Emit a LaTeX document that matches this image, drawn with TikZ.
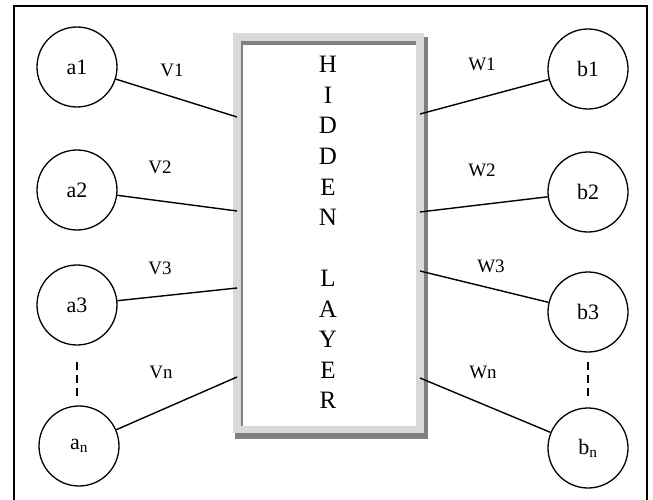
\documentclass[tikz,border=0pt]{standalone}
\usepackage{fontspec}
\setmainfont{Liberation Serif}
\begin{document}
\begin{tikzpicture}[x=1pt,y=-1pt,
  neuron/.style={draw,circle,line width=1.3pt,minimum size=80pt,inner sep=0pt,font=\fontsize{22}{24}\selectfont},
  wlabel/.style={font=\fontsize{19}{21}\selectfont},
  letter/.style={font=\fontsize{25}{28}\selectfont,inner sep=0pt},
  conn/.style={line width=1.4pt},
  dots/.style={line width=1.6pt,dash pattern=on 8pt off 5pt}]
\useasboundingbox (0,0) rectangle (653,500);
% outer frame (bottom edge not shown)
\draw[line width=2.6pt] (14,500) -- (14,6) -- (647,6) -- (647,500);
% hidden layer box
\fill[black!50] (235,37) rectangle (428,439);
\fill[black!15] (233,33) rectangle (424,433);
\fill[black!50] (241,41) rectangle (416,426);
\fill[white] (243,45) rectangle (416,426);
\foreach \c [count=\i from 0] in {H,I,D,D,E,N,{},L,A,Y,E,R}{
  \node[letter,anchor=base] (hl\i) at (328,{73+30.5*\i}) {\c};
}
% connector end points on the box
\coordinate (la) at (237,117);
\coordinate (lb) at (237,211);
\coordinate (lc) at (237,288);
\coordinate (ld) at (237,377);
\coordinate (ra) at (420,114);
\coordinate (rb) at (420,212);
\coordinate (rc) at (420,271);
\coordinate (rd) at (420,378);
% neurons
\node[neuron] (a1) at (77,67) {a1};
\node[neuron] (a2) at (77,190) {a2};
\node[neuron] (a3) at (77,305) {a3};
\node[neuron] (an) at (79,446) {a\textsubscript{n}};
\node[neuron] (b1) at (588,69) {b1};
\node[neuron] (b2) at (588,192) {b2};
\node[neuron] (b3) at (588,312) {b3};
\node[neuron] (bn) at (588,448) {b\textsubscript{n}};
% dashed continuation
\coordinate (adt) at (77,362);
\coordinate (adb) at (77,397);
\coordinate (bdt) at (588,362);
\coordinate (bdb) at (588,397);
\draw[dots] (adt) -- (adb);
\draw[dots] (bdt) -- (bdb);
% connectors
\draw[conn] (a1) -- (la);
\draw[conn] (a2) -- (lb);
\draw[conn] (a3) -- (lc);
\draw[conn] (an) -- (ld);
\draw[conn] (b1) -- (ra);
\draw[conn] (b2) -- (rb);
\draw[conn] (b3) -- (rc);
\draw[conn] (bn) -- (rd);
% weight labels
\node[wlabel] (v1) at (172,70) {V1};
\node[wlabel] (v2) at (160,167) {V2};
\node[wlabel] (v3) at (160,268) {V3};
\node[wlabel] (vn) at (161,372) {Vn};
\node[wlabel] (w1) at (482,64) {W1};
\node[wlabel] (w2) at (482,170) {W2};
\node[wlabel] (w3) at (491,266) {W3};
\node[wlabel] (wn) at (483,372) {Wn};
\end{tikzpicture}
\end{document}
